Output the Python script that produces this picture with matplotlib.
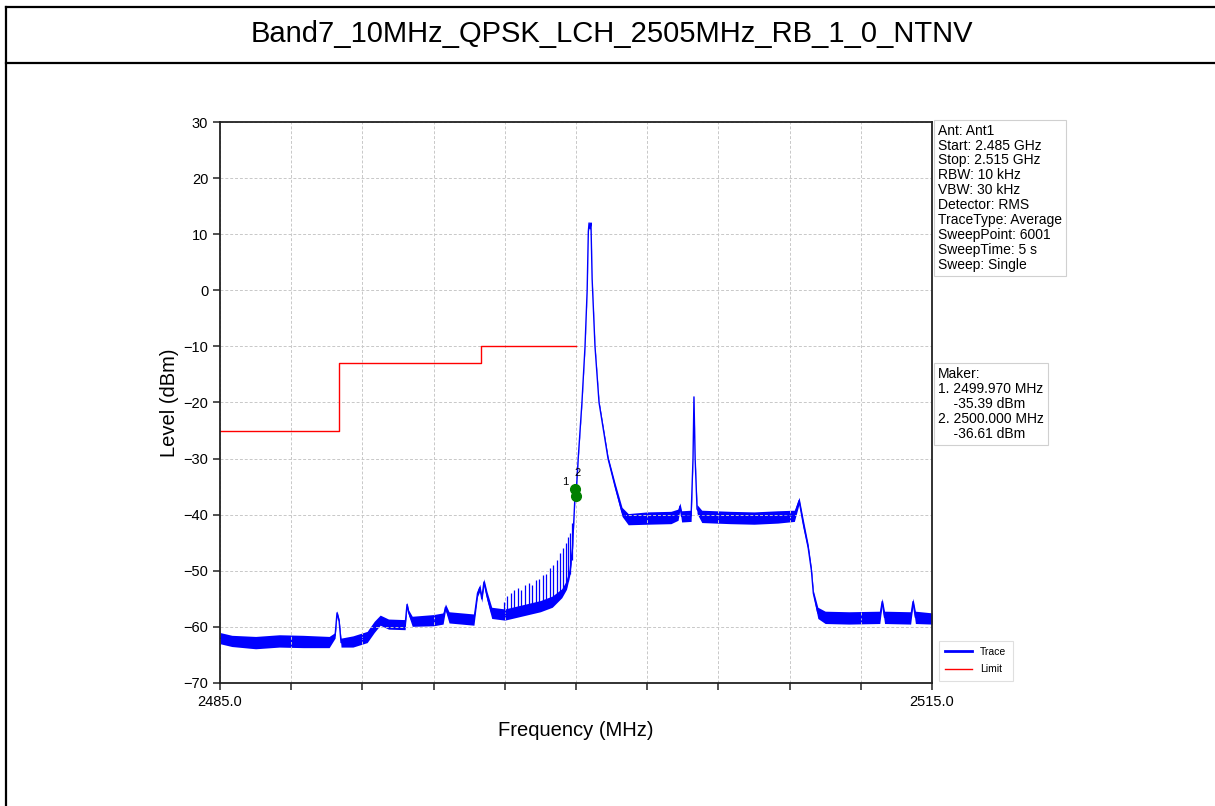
import matplotlib.pyplot as plt
from matplotlib.lines import Line2D
import numpy as np

plt.rcParams['font.family'] = ['Liberation Sans', 'DejaVu Sans']

title = "Band7_10MHz_QPSK_LCH_2505MHz_RB_1_0_NTNV"

# trace: frequency (MHz), level (dBm), noise half-width (dB)
trace_freq = [2485.0, 2485.5, 2486.5, 2487.5, 2488.5, 2489.6, 2489.85, 2489.93, 2490.02, 2490.1,
              2490.6, 2491.2, 2491.5, 2491.75, 2492.1, 2492.8, 2492.88, 2492.95, 2493.1, 2494.0,
              2494.4, 2494.5, 2494.65, 2495.7, 2495.85, 2495.95, 2496.03, 2496.12, 2496.25, 2496.45,
              2497.0, 2497.5, 2498.0, 2498.5, 2499.0, 2499.4, 2499.6, 2499.75, 2499.85, 2499.92,
              2499.97, 2500.0, 2500.1, 2500.25, 2500.38, 2500.47, 2500.52, 2500.55, 2500.59, 2500.63,
              2500.68, 2500.8, 2500.97, 2501.35, 2501.65, 2501.94, 2502.2, 2503.0, 2504.0, 2504.3,
              2504.38, 2504.45, 2504.85, 2504.93, 2504.97, 2505.02, 2505.1, 2505.3, 2506.5, 2507.5,
              2508.5, 2509.2, 2509.4, 2509.57, 2509.78, 2509.92, 2510.0, 2510.19, 2510.5, 2511.5,
              2512.8, 2512.9, 2513.0, 2514.1, 2514.2, 2514.3, 2515.0]
trace_level = [-62.0, -62.5, -62.8, -62.5, -62.6, -62.7, -61.5, -57.5, -59.0, -62.8,
               -62.6, -61.8, -60.0, -58.8, -59.5, -59.6, -56.0, -57.5, -59.0, -58.8,
               -58.5, -56.5, -58.3, -58.7, -54.0, -53.0, -55.0, -52.0, -54.5, -57.5,
               -57.8, -57.3, -56.8, -56.3, -55.5, -54.0, -52.5, -50.0, -46.0, -40.0,
               -35.39, -36.61, -29.5, -20.0, -10.0, 0.0, 10.5, 12.0, 11.0, 12.0,
               2.0, -10.0, -20.0, -30.0, -35.0, -39.5, -40.8, -40.6, -40.5, -40.0,
               -38.5, -40.3, -40.2, -30.0, -19.0, -30.0, -39.0, -40.3, -40.5, -40.6,
               -40.4, -40.2, -37.5, -41.5, -45.8, -50.0, -54.0, -57.5, -58.3, -58.4,
               -58.3, -55.5, -58.3, -58.4, -55.5, -58.3, -58.5]
trace_spread = [1.0, 1.0, 1.1, 1.1, 1.1, 1.0, 0.5, 0.4, 0.4, 0.8,
                1.0, 1.0, 1.0, 0.9, 0.9, 0.9, 0.4, 0.5, 0.9, 1.0,
                1.0, 0.6, 1.0, 1.0, 0.6, 0.6, 0.6, 0.6, 0.8, 1.0,
                1.0, 1.0, 1.0, 1.0, 1.0, 0.8, 0.8, 0.6, 0.5, 0.3,
                0.25, 0.25, 0.25, 0.25, 0.25, 0.25, 0.25, 0.25, 0.25, 0.25,
                0.25, 0.25, 0.3, 0.4, 0.6, 0.8, 1.0, 1.1, 1.1, 1.0,
                0.6, 1.0, 1.0, 0.25, 0.25, 0.25, 0.8, 1.1, 1.1, 1.1,
                1.1, 1.0, 0.6, 0.8, 0.6, 0.5, 0.5, 1.0, 1.1, 1.1,
                1.1, 0.6, 1.1, 1.1, 0.6, 1.1, 1.0]

# comb of narrow spurs below the carrier
comb_freq = [2496.95, 2497.1, 2497.25, 2497.4, 2497.55, 2497.7, 2497.85, 2498.0, 2498.15, 2498.3, 2498.45,
             2498.6, 2498.75, 2498.9, 2499.05, 2499.2, 2499.33, 2499.45, 2499.56, 2499.66, 2499.74, 2499.82]
comb_top = [-55.5, -54.5, -54.0, -53.5, -53.0, -53.5, -52.5, -52.2, -52.5, -51.6, -51.5,
            -50.8, -50.5, -49.5, -49.0, -48.0, -46.8, -46.0, -45.0, -44.0, -43.3, -41.5]
comb_base = [-58.5, -58.3, -58.0, -57.8, -57.6, -57.3, -57.0, -56.8, -56.7, -56.5, -56.4,
             -56.2, -56.0, -55.7, -55.4, -54.8, -54.2, -53.5, -52.8, -51.8, -50.5, -48.0]

limit_freq = [2485, 2490, 2496, 2500]
limit_level = [-25, -13, -10, -10]

marker_freq = [2499.970, 2500.000]
marker_level = [-35.39, -36.61]
marker_names = ['1', '2']

x_ticks = [2485, 2488, 2491, 2494, 2497, 2500, 2503, 2506, 2509, 2512, 2515]
x_tick_labels = ['2485.0', '', '', '', '', '', '', '', '', '', '2515.0']
y_ticks = [-70, -60, -50, -40, -30, -20, -10, 0, 10, 20, 30]

info_lines = ["Ant: Ant1", "Start: 2.485 GHz", "Stop: 2.515 GHz", "RBW: 10 kHz", "VBW: 30 kHz",
              "Detector: RMS", "TraceType: Average", "SweepPoint: 6001", "SweepTime: 5 s", "Sweep: Single"]
maker_lines = ["Maker:", "1. 2499.970 MHz", "    -35.39 dBm", "2. 2500.000 MHz", "    -36.61 dBm"]

W, H = 1215, 806
fig = plt.figure(figsize=(W / 100, H / 100), dpi=100)

# table cell borders
for x0, y0, x1, y1 in [(6, 7, W, 7), (6, 63, W, 63), (6, 7, 6, H)]:
    fig.add_artist(Line2D([x0 / W, x1 / W], [1 - y0 / H, 1 - y1 / H], transform=fig.transFigure,
                          color='black', lw=1.6))
fig.text(612 / W, 1 - 34 / H, title, ha='center', va='center', fontsize=21)

ax = fig.add_axes([220 / W, 1 - 683 / H, 712 / W, 561 / H])

f = np.array(trace_freq)
lv = np.array(trace_level)
sp = np.array(trace_spread)
ax.fill_between(f, lv - sp, lv + sp, color='blue', lw=0)
ax.plot(f, lv, color='blue', lw=1.0, label='Trace')
ax.vlines(comb_freq, comb_base, comb_top, color='blue', lw=0.9)
ax.step(limit_freq, limit_level, where='post', color='red', lw=1.0, label='Limit')

ax.plot(marker_freq, marker_level, 'o', color='green', ms=7, zorder=5)
ax.annotate(marker_names[0], (marker_freq[0], marker_level[0]), xytext=(-5, 1), textcoords='offset points',
            ha='right', va='bottom', fontsize=8, color='black')
ax.annotate(marker_names[1], (marker_freq[1], marker_level[1]), xytext=(1, 13), textcoords='offset points',
            ha='center', va='bottom', fontsize=8, color='black')

ax.set_xlim(2485, 2515)
ax.set_ylim(-70, 30)
ax.set_xticks(x_ticks)
ax.set_xticklabels(x_tick_labels)
ax.set_yticks(y_ticks)
ax.tick_params(labelsize=10.5, length=5, width=1.2, color='#333333')
ax.grid(True, color='#c8c8c8', ls='--', lw=0.7, dashes=(3, 2))
for s in ax.spines.values():
    s.set_linewidth(1.3)
    s.set_color('#222222')

ax.set_xlabel('Frequency (MHz)', fontsize=14.5, labelpad=9)
ax.set_ylabel('Level (dBm)', fontsize=14.5, labelpad=3)

box = dict(boxstyle='square,pad=0.3', fc='white', ec='#d0d0d0', lw=0.8)
ax.text(1.008, 0.997, "\n".join(info_lines), transform=ax.transAxes, ha='left', va='top',
        fontsize=10, linespacing=1.08, bbox=box)
ax.text(1.008, 0.563, "\n".join(maker_lines), transform=ax.transAxes, ha='left', va='top',
        fontsize=10, linespacing=1.08, bbox=box)

leg = ax.legend(loc='lower left', bbox_to_anchor=(1.002, -0.005), fontsize=7.5,
                handlelength=2.6, borderpad=0.6, labelspacing=0.7, fancybox=False)
leg.get_frame().set_edgecolor('#d8d8d8')
leg.get_frame().set_linewidth(0.8)
leg.get_lines()[0].set_linewidth(2)

fig.savefig('out.png', dpi=100)
